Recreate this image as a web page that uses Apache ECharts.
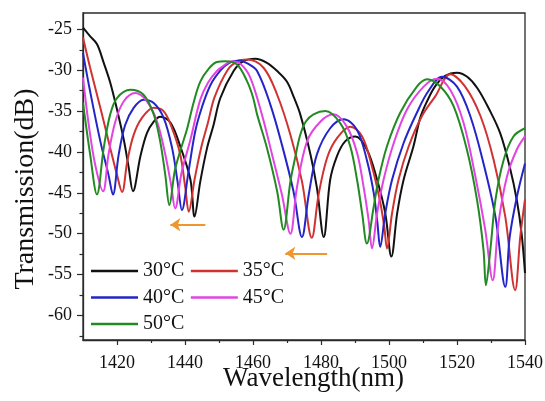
<!DOCTYPE html>
<html>
<head>
<meta charset="utf-8">
<script src="https://cdn.jsdelivr.net/npm/echarts/dist/echarts.min.js"></script>
<style>
html,body{margin:0;padding:0;background:#fff;}
#chart{width:545px;height:401px;}
</style>
</head>
<body>
<div id="chart"></div>
<script>
// ---- data ----
const seriesNames = ['30°C', '35°C', '40°C', '45°C', '50°C'];
const seriesColors = ['#111111', '#d03232', '#2424c8', '#e244e2', '#228a22'];

const wl30 = [1410,1412,1414.1,1416.1,1418,1420,1422,1423.4,1424.7,1426.9,1428.8,1430.8,1432.7,1435.7,1438.6,1441.6,1442.8,1444.5,1446.5,1448.4,1450.4,1454.3,1457.2,1460.7,1464.1,1467.1,1470,1472,1473.9,1476.9,1478.8,1480.8,1482.7,1484.7,1487.1,1490.1,1493.5,1496.5,1498.9,1500.7,1502.4,1504.3,1507.2,1509.2,1511.2,1513.5,1516.5,1520,1523,1526,1529.5,1532.7,1535.5,1537.6,1539,1540];
const db30 = [-24.8,-25.8,-26.8,-29.1,-31.5,-34.8,-38.5,-41.8,-44.8,-40.5,-37.7,-36.3,-35.7,-36.4,-39.3,-43.4,-47.9,-43.6,-39.5,-36.7,-33.4,-30.1,-28.9,-28.6,-29.1,-30.1,-31.4,-33.3,-35.4,-40.3,-44.4,-50.4,-43.4,-40.5,-38.7,-38.1,-39.7,-43.4,-47.5,-52.8,-47.5,-43.4,-39.3,-35.8,-33.8,-32.0,-30.7,-30.3,-30.8,-32.2,-34.8,-37.7,-41.8,-45.9,-50.0,-54.8];

const wl35 = [1410,1412.1,1415.1,1418,1420,1421.5,1423,1424.9,1427.4,1430.8,1433.7,1436.2,1438.6,1440.1,1441.1,1442.8,1444.8,1446.7,1448.7,1452.5,1455.5,1458.2,1463.1,1467.1,1471,1474.4,1477.3,1479.3,1481.8,1484.7,1488.6,1492.1,1495,1497.3,1498.6,1499.4,1500.9,1502.8,1505.8,1509.7,1513.6,1518,1522.4,1526.9,1530.8,1534.2,1537.1,1538.6,1540];
const db35 = [-26.0,-29.7,-34.6,-39.5,-42.8,-44.9,-41.2,-37.9,-35.8,-34.6,-35.0,-37.1,-40.3,-44.4,-47.3,-43.4,-39.4,-36.5,-33.3,-30.0,-28.9,-28.7,-29.7,-33.0,-37.9,-43.6,-50.5,-45.2,-40.7,-38.3,-36.9,-38.1,-41.8,-45.9,-49.1,-51.8,-47.5,-43.4,-39.3,-35.6,-33.2,-30.5,-32.0,-35.6,-41.0,-47.9,-56.9,-50.4,-45.8];

const wl40 = [1410,1412.1,1415.1,1417.5,1418.8,1420.5,1422.4,1424.9,1427.8,1430.8,1433.7,1436.2,1437.8,1439.1,1441,1443,1445,1447.5,1450.5,1453,1455.8,1458.5,1461.2,1465.1,1468.5,1471.9,1474.4,1476.4,1478.8,1482.7,1486.7,1490.6,1493.5,1495.5,1496.6,1497.4,1498.9,1500.9,1504.3,1508.2,1511.5,1515.6,1520,1523.9,1527.8,1531.3,1534.2,1535.5,1537.6,1540];
const db40 = [-27.9,-32.6,-38.7,-42.8,-45.2,-40.3,-36.7,-34.6,-33.6,-34.0,-35.8,-39.5,-43.6,-47.1,-42.5,-37.5,-34.5,-31.8,-30.0,-29.1,-28.8,-29.2,-30.1,-34.2,-39.1,-44.8,-50.4,-45.2,-40.3,-37.1,-36.0,-37.3,-41.0,-45.0,-48.7,-51.6,-47.5,-43.4,-38.9,-35.2,-32.6,-30.8,-32.0,-35.6,-41.4,-47.9,-56.5,-50.4,-45.5,-41.4];

const wl45 = [1410,1411.7,1413.6,1415.9,1417.5,1419.5,1422,1425.4,1428.8,1431.8,1434.2,1435.9,1437.1,1439,1441.6,1444.5,1446.8,1449.4,1451.5,1453.8,1456.5,1459.2,1462.6,1465.6,1468.5,1471,1472.9,1475.9,1479.8,1483.7,1487.6,1490.6,1492.5,1494,1495,1496.5,1498.4,1501.4,1505.3,1510.2,1514.1,1518,1521.9,1525.4,1528.3,1530.5,1532.2,1534.7,1537.6,1540];
const db45 = [-30.9,-36.7,-41.6,-44.8,-40.3,-36.3,-33.8,-32.8,-33.8,-36.3,-40.3,-44.0,-46.9,-42.5,-38.5,-33.6,-31.5,-30.1,-29.4,-28.9,-29.3,-30.9,-35.4,-40.3,-45.2,-50.0,-44.4,-38.7,-36.3,-35.4,-36.9,-40.1,-44.2,-48.3,-51.8,-47.5,-43.4,-38.9,-34.8,-32.0,-31.05,-32.4,-36.4,-43.0,-49.5,-55.7,-48.7,-43.0,-39.7,-38.1];

const wl50 = [1410,1412.1,1414.1,1416.1,1418,1420,1423.9,1427.8,1430.8,1432.7,1434.2,1435.4,1437,1438.8,1440.6,1442.5,1444.5,1447,1449.4,1451.9,1455.3,1458.2,1460,1461.2,1464.1,1467.1,1469,1471,1472.5,1473.9,1475.5,1477.8,1481.3,1485.7,1488.6,1490.6,1492.1,1493.5,1495.5,1496.9,1499.4,1503.3,1508.2,1511.2,1515.1,1519,1522.9,1525.9,1527.8,1528.5,1529.8,1531.3,1533.7,1536.6,1540];
const db50 = [-34.0,-40.3,-45.2,-39.5,-35.4,-33.4,-32.4,-33.0,-35.4,-38.7,-42.8,-46.5,-42.3,-39.6,-37.2,-34.0,-31.4,-29.8,-29.0,-28.9,-29.3,-31.3,-33.3,-35.4,-39.5,-44.8,-49.5,-43.6,-40.5,-37.9,-36.3,-35.4,-35.0,-36.5,-39.3,-43.4,-47.5,-51.2,-46.7,-43.4,-39.3,-35.2,-32.0,-31.1,-32.0,-34.4,-39.7,-45.9,-52.0,-56.3,-52.0,-45.9,-41.0,-38.1,-37.1];

const xTickLabels = [1420, 1440, 1460, 1480, 1500, 1520, 1540];
const xMinorTicks = [1430, 1450, 1470, 1490, 1510, 1530];
const yTickLabels = [-60, -55, -50, -45, -40, -35, -30, -25];
const yMinorTicks = [-62.5, -57.5, -52.5, -47.5, -42.5, -37.5, -32.5, -27.5];

// shift arrows (annotations), in data units
const arrow1 = [[1446.0, -48.9], [1435.7, -48.9]];
const arrow2 = [[1481.8, -52.4], [1469.5, -52.4]];

// ---- build chart ----
const wls = [wl30, wl35, wl40, wl45, wl50];
const dbs = [db30, db35, db40, db45, db50];
const FONT = '"Liberation Serif", "Times New Roman", serif';
const AXIS_COLOR = '#2a2a2a';

const series = seriesNames.map((name, i) => ({
  name: name,
  type: 'line',
  data: wls[i].map((x, k) => [x, dbs[i][k]]),
  symbol: 'none',
  smooth: 0.35,
  clip: true,
  lineStyle: { color: seriesColors[i], width: 2 },
  itemStyle: { color: seriesColors[i] },
  z: 2 + i
}));

series[0].markLine = {
  silent: true,
  symbol: ['none', 'arrow'],
  symbolSize: [10, 10],
  label: { show: false },
  lineStyle: { color: '#f0962e', width: 2, type: 'solid' },
  emphasis: { disabled: true },
  data: [
    [{ coord: arrow1[0] }, { coord: arrow1[1] }],
    [{ coord: arrow2[0] }, { coord: arrow2[1] }]
  ]
};

const plain = v => String(v);

const chart = echarts.init(document.getElementById('chart'), null, { renderer: 'canvas' });
chart.setOption({
  animation: false,
  backgroundColor: '#ffffff',
  grid: {
    left: 83, top: 13, right: 20, bottom: 61,
    containLabel: false,
    outerBoundsMode: 'none',
    show: true, borderColor: AXIS_COLOR, borderWidth: 1.3, backgroundColor: 'transparent'
  },
  legend: {
    data: seriesNames,
    left: 91, top: 261, width: 200,
    padding: 0,
    orient: 'horizontal',
    icon: 'rect',
    itemWidth: 47, itemHeight: 2.6,
    itemGap: 6.5,
    textStyle: { fontFamily: FONT, fontSize: 20, color: '#111', lineHeight: 17.5 },
    selectedMode: false
  },
  xAxis: [{
    type: 'value',
    min: 1410, max: 1540,
    name: 'Wavelength(nm)',
    nameLocation: 'middle',
    nameGap: 25,
    nameMoveOverlap: false,
    nameTextStyle: { fontFamily: FONT, fontSize: 27, color: '#111', padding: [0, 0, 0, 19] },
    axisLine: { show: true, onZero: false, lineStyle: { color: AXIS_COLOR, width: 1.3 } },
    axisTick: { show: true, inside: false, length: 5, customValues: xTickLabels, lineStyle: { color: AXIS_COLOR, width: 1.2 } },
    axisLabel: { show: true, margin: 14, customValues: xTickLabels, formatter: plain, fontFamily: FONT, fontSize: 18, color: '#111' },
    splitLine: { show: false }
  }, {
    type: 'value',
    min: 1410, max: 1540,
    position: 'bottom',
    axisLine: { show: false },
    axisTick: { show: true, inside: false, length: 3, customValues: xMinorTicks, lineStyle: { color: AXIS_COLOR, width: 1.2 } },
    axisLabel: { show: false },
    splitLine: { show: false }
  }],
  yAxis: [{
    type: 'value',
    min: -63, max: -23,
    name: 'Transmission(dB)',
    nameLocation: 'middle',
    nameGap: 43,
    nameMoveOverlap: false,
    nameTextStyle: { fontFamily: FONT, fontSize: 28, color: '#111', padding: [0, 25, 0, 0] },
    axisLine: { show: true, onZero: false, lineStyle: { color: AXIS_COLOR, width: 1.3 } },
    axisTick: { show: true, inside: false, length: 6, customValues: yTickLabels, lineStyle: { color: AXIS_COLOR, width: 1.2 } },
    axisLabel: { show: true, margin: 11, customValues: yTickLabels, formatter: plain, fontFamily: FONT, fontSize: 18, color: '#111' },
    splitLine: { show: false }
  }, {
    type: 'value',
    min: -63, max: -23,
    position: 'left',
    axisLine: { show: false },
    axisTick: { show: true, inside: false, length: 3.5, customValues: yMinorTicks, lineStyle: { color: AXIS_COLOR, width: 1.2 } },
    axisLabel: { show: false },
    splitLine: { show: false }
  }],
  series: series
});
</script>
</body>
</html>
